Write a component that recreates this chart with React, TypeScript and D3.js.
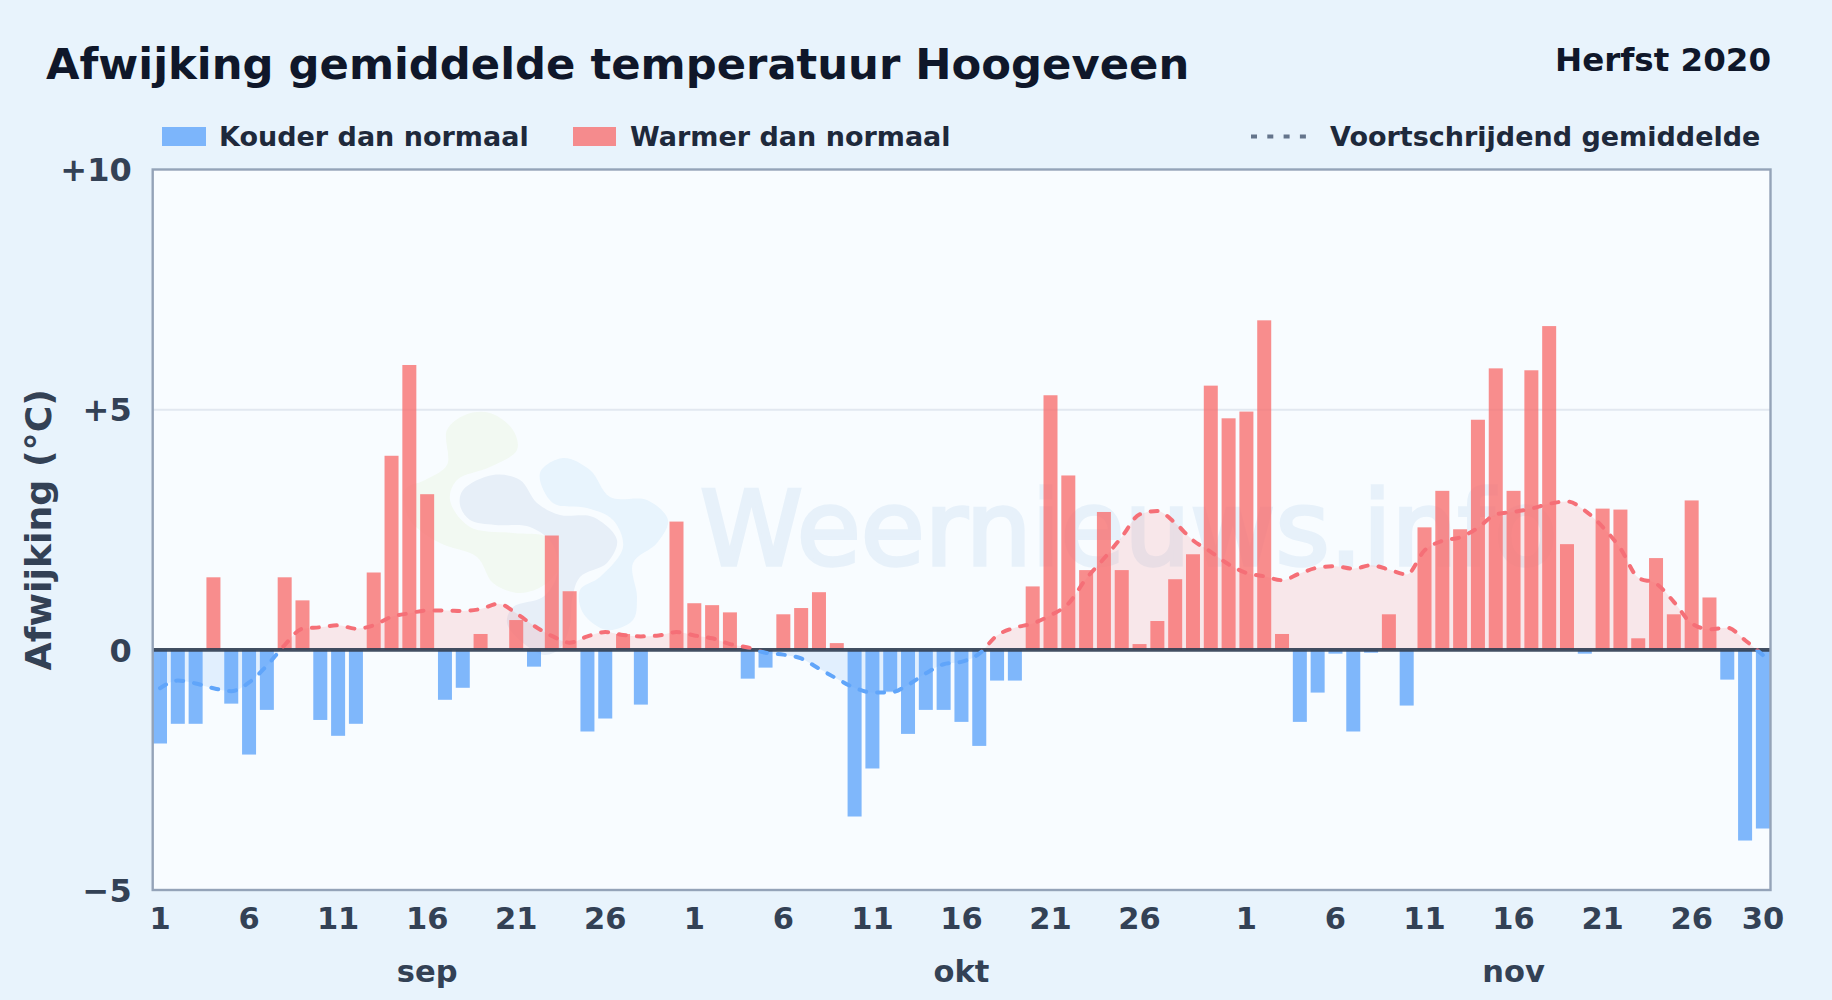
import { useEffect, useRef } from 'react';
import * as d3 from 'd3';

const W = 1832;
const H = 1000;
const FONT = '"DejaVu Sans", sans-serif';

// afwijking per dag, 1 sep t/m 30 nov 2020
const deviation = [
    -1.95, -1.54, -1.54, 1.51, -1.12, -2.18, -1.25, 1.51, 1.03, -1.46,
    -1.79, -1.54, 1.61, 4.04, 5.93, 3.24, -1.04, -0.79, 0.33, 0,
    0.62, -0.35, 2.38, 1.22, -1.70, -1.43, 0.33, -1.14, 0, 2.67,
    0.97, 0.93, 0.78, -0.60, -0.37, 0.74, 0.87, 1.20, 0.14, -3.47,
    -2.47, -0.87, -1.75, -1.25, -1.25, -1.50, -2.00, -0.64, -0.64, 1.32,
    5.30, 3.63, 1.66, 2.87, 1.66, 0.12, 0.60, 1.47, 1.99, 5.50,
    4.82, 4.96, 6.86, 0.33, -1.50, -0.89, -0.08, -1.70, -0.06, 0.74,
    -1.16, 2.55, 3.31, 2.51, 4.79, 5.86, 3.31, 5.82, 6.74, 2.20,
    -0.08, 2.94, 2.92, 0.24, 1.91, 0.74, 3.11, 1.09, -0.62, -3.97,
    -3.72,
];

const rolling = [
    -0.80, -0.64, -0.70, -0.80, -0.86, -0.68, -0.33, 0.10, 0.44, 0.47,
    0.51, 0.44, 0.51, 0.69, 0.76, 0.82, 0.82, 0.81, 0.85, 0.96,
    0.76, 0.50, 0.29, 0.15, 0.28, 0.37, 0.31, 0.28, 0.30, 0.37,
    0.30, 0.24, 0.12, 0.05, -0.06, -0.10, -0.18, -0.39, -0.60, -0.79,
    -0.89, -0.89, -0.73, -0.49, -0.30, -0.25, -0.08, 0.30, 0.46, 0.55,
    0.72, 0.96, 1.48, 1.90, 2.35, 2.82, 2.89, 2.64, 2.28, 2.04,
    1.78, 1.60, 1.53, 1.45, 1.59, 1.71, 1.74, 1.69, 1.76, 1.67,
    1.57, 2.07, 2.27, 2.34, 2.54, 2.82, 2.87, 2.94, 3.04, 3.09,
    2.90, 2.56, 2.11, 1.50, 1.38, 1.00, 0.55, 0.43, 0.46, 0.20,
    -0.11,
];

const yTicks = [-5, 0, 5, 10];
const yTickLabels = ['−5', '0', '+5', '+10'];
const xTickIndex = [0, 5, 10, 15, 20, 25, 30, 35, 40, 45, 50, 55, 61, 66, 71, 76, 81, 86, 90];
const xTickLabels = ['1', '6', '11', '16', '21', '26', '1', '6', '11', '16', '21', '26', '1', '6', '11', '16', '21', '26', '30'];
const months = ['sep', 'okt', 'nov'];
const monthIndex = [15, 45, 76];

// logo achter de grafiek
const logoGreen: [number, number][] = [[490, 413], [513, 430], [517, 450], [490, 467], [457, 480], [450, 500], [470, 527], [513, 533], [547, 537], [563, 557], [547, 583], [520, 593], [493, 583], [477, 557], [440, 543], [410, 520], [405, 490], [425, 480], [447, 465], [447, 430], [465, 415]];
const logoGray: [number, number][] = [[463, 490], [493, 475], [520, 480], [537, 503], [560, 515], [593, 517], [617, 540], [607, 563], [580, 577], [572, 600], [570, 625], [560, 648], [545, 655], [523, 643], [507, 623], [513, 607], [543, 597], [557, 575], [553, 545], [530, 527], [495, 525], [470, 520], [460, 505]];
const logoBlue: [number, number][] = [[540, 473], [563, 458], [590, 470], [610, 497], [647, 500], [668, 520], [657, 543], [633, 563], [637, 597], [633, 620], [607, 630], [583, 613], [580, 590], [600, 577], [623, 547], [613, 520], [587, 508], [553, 503]];

export default function App() {
    const svgRef = useRef<SVGSVGElement | null>(null);

    useEffect(() => {
        if (!svgRef.current) return;
        const svg = d3.select(svgRef.current);
        svg.selectAll('*').remove();

        const left = 152.7, right = 1770.5, top = 169.5, bottom = 890;

        const x = d3.scaleBand<number>()
            .domain(deviation.map((_, i) => i))
            .range([151.1, 1771.8])
            .paddingInner(0.214)
            .paddingOuter(0.107);
        const cx = (i: number) => x(i)! + x.bandwidth() / 2;
        const y = d3.scaleLinear().domain([-5, 10]).range([bottom, top]);

        svg.append('rect').attr('width', W).attr('height', H).attr('fill', '#e8f3fc');

        svg.append('text')
            .attr('x', 46).attr('y', 79)
            .attr('font-size', 43.3).attr('font-weight', 700).attr('fill', '#0f172a')
            .text('Afwijking gemiddelde temperatuur Hoogeveen');
        svg.append('text')
            .attr('x', 1771).attr('y', 71).attr('text-anchor', 'end')
            .attr('font-size', 32.5).attr('font-weight', 700).attr('fill', '#0f172a')
            .text('Herfst 2020');

        // legenda
        const legend = svg.append('g').attr('font-size', 27).attr('font-weight', 700).attr('fill', '#1e293b');
        legend.append('rect').attr('x', 162).attr('y', 127).attr('width', 44).attr('height', 19).attr('fill', '#60a5fa').attr('opacity', 0.8);
        legend.append('text').attr('x', 219).attr('y', 146).text('Kouder dan normaal');
        legend.append('rect').attr('x', 573).attr('y', 127).attr('width', 43).attr('height', 19).attr('fill', '#f87171').attr('opacity', 0.8);
        legend.append('text').attr('x', 630).attr('y', 146).text('Warmer dan normaal');
        legend.append('line').attr('x1', 1251).attr('x2', 1307).attr('y1', 136.5).attr('y2', 136.5)
            .attr('stroke', '#64748b').attr('stroke-width', 4).attr('stroke-dasharray', '6 10.3');
        legend.append('text').attr('x', 1330).attr('y', 146).text('Voortschrijdend gemiddelde');

        // plotvlak
        svg.append('rect')
            .attr('x', left).attr('y', top).attr('width', right - left).attr('height', bottom - top)
            .attr('fill', '#f8fcff');

        const defs = svg.append('defs');
        defs.append('clipPath').attr('id', 'plot').append('rect')
            .attr('x', left).attr('y', top).attr('width', right - left).attr('height', bottom - top);
        defs.append('clipPath').attr('id', 'above').append('rect')
            .attr('x', left).attr('y', top).attr('width', right - left).attr('height', y(0) - top);
        defs.append('clipPath').attr('id', 'below').append('rect')
            .attr('x', left).attr('y', y(0)).attr('width', right - left).attr('height', bottom - y(0));

        // watermerk
        const blob = d3.line().curve(d3.curveCatmullRomClosed.alpha(0.5));
        const mark = svg.append('g').attr('clip-path', 'url(#plot)');
        mark.append('path').attr('d', blob(logoGreen)).attr('fill', '#f2f9f2');
        mark.append('path').attr('d', blob(logoBlue)).attr('fill', '#e8f4fd');
        mark.append('path').attr('d', blob(logoGray)).attr('fill', '#e7eff8');
        mark.append('text')
            .attr('x', 700).attr('y', 565)
            .attr('font-size', 104).attr('fill', '#e7f1fa')
            .attr('stroke', '#e7f1fa').attr('stroke-width', 3.5)
            .text('Weernieuws.info');

        svg.append('line')
            .attr('x1', left).attr('x2', right).attr('y1', y(5)).attr('y2', y(5))
            .attr('stroke', '#e2e8f0').attr('stroke-width', 2);

        // gemiddelde: vlak onder de balken, lijn erboven
        const area = d3.area<number>()
            .x((_, i) => cx(i))
            .y0(y(0))
            .y1(d => y(d))
            .curve(d3.curveMonotoneX);
        const line = d3.line<number>()
            .x((_, i) => cx(i))
            .y(d => y(d))
            .curve(d3.curveMonotoneX);

        svg.append('path').datum(rolling).attr('d', area)
            .attr('clip-path', 'url(#above)').attr('fill', '#f87171').attr('opacity', 0.15);
        svg.append('path').datum(rolling).attr('d', area)
            .attr('clip-path', 'url(#below)').attr('fill', '#60a5fa').attr('opacity', 0.15);

        svg.append('g').attr('clip-path', 'url(#plot)')
            .selectAll('rect')
            .data(deviation)
            .join('rect')
            .attr('x', (_, i) => x(i)!)
            .attr('width', x.bandwidth())
            .attr('y', d => y(Math.max(0, d)))
            .attr('height', d => Math.abs(y(d) - y(0)))
            .attr('fill', d => (d < 0 ? '#60a5fa' : '#f87171'))
            .attr('opacity', 0.8);

        svg.append('line')
            .attr('x1', left).attr('x2', right).attr('y1', y(0)).attr('y2', y(0))
            .attr('stroke', '#334155').attr('stroke-width', 3.6).attr('opacity', 0.92);

        const dash = '7 11';
        svg.append('path').datum(rolling).attr('d', line)
            .attr('clip-path', 'url(#above)').attr('fill', 'none')
            .attr('stroke', '#f56f77').attr('stroke-width', 4).attr('stroke-linecap', 'round').attr('stroke-dasharray', dash);
        svg.append('path').datum(rolling).attr('d', line)
            .attr('clip-path', 'url(#below)').attr('fill', 'none')
            .attr('stroke', '#60a5fa').attr('stroke-width', 4).attr('stroke-linecap', 'round').attr('stroke-dasharray', dash);

        svg.append('rect')
            .attr('x', left).attr('y', top).attr('width', right - left).attr('height', bottom - top)
            .attr('fill', 'none').attr('stroke', '#94a3b8').attr('stroke-width', 2.4);

        // assen
        const yAxis = d3.axisLeft(y)
            .tickValues(yTicks)
            .tickSize(0)
            .tickPadding(21)
            .tickFormat((_, i) => yTickLabels[i]);
        const gy = svg.append('g').attr('transform', `translate(${left},1)`).call(yAxis);
        const xAxis = d3.axisBottom(x)
            .tickValues(xTickIndex)
            .tickSize(0)
            .tickPadding(0)
            .tickFormat((_, i) => xTickLabels[i]);
        const gx = svg.append('g').attr('transform', 'translate(0,907)').call(xAxis);
        gy.select('.domain').remove();
        gy.selectAll('text')
            .attr('font-family', FONT).attr('font-size', 32).attr('font-weight', 700).attr('fill', '#334155');
        gx.select('.domain').remove();
        gx.selectAll('text')
            .attr('font-family', FONT).attr('font-size', 30.5).attr('font-weight', 700).attr('fill', '#334155');

        svg.append('g')
            .selectAll('text')
            .data(months)
            .join('text')
            .attr('x', (_, i) => cx(monthIndex[i]))
            .attr('y', 982)
            .attr('text-anchor', 'middle')
            .attr('font-size', 30.5).attr('font-weight', 700).attr('fill', '#334155')
            .text(d => d);

        svg.append('text')
            .attr('transform', `translate(51,${(top + bottom) / 2}) rotate(-90)`)
            .attr('text-anchor', 'middle')
            .attr('font-size', 36.3).attr('font-weight', 700).attr('fill', '#334155')
            .text('Afwijking (°C)');
    }, []);

    return (
        <svg
            ref={svgRef}
            width={W}
            height={H}
            viewBox={`0 0 ${W} ${H}`}
            style={{ position: 'absolute', left: 0, top: 0, display: 'block', fontFamily: FONT }}
        />
    );
}
